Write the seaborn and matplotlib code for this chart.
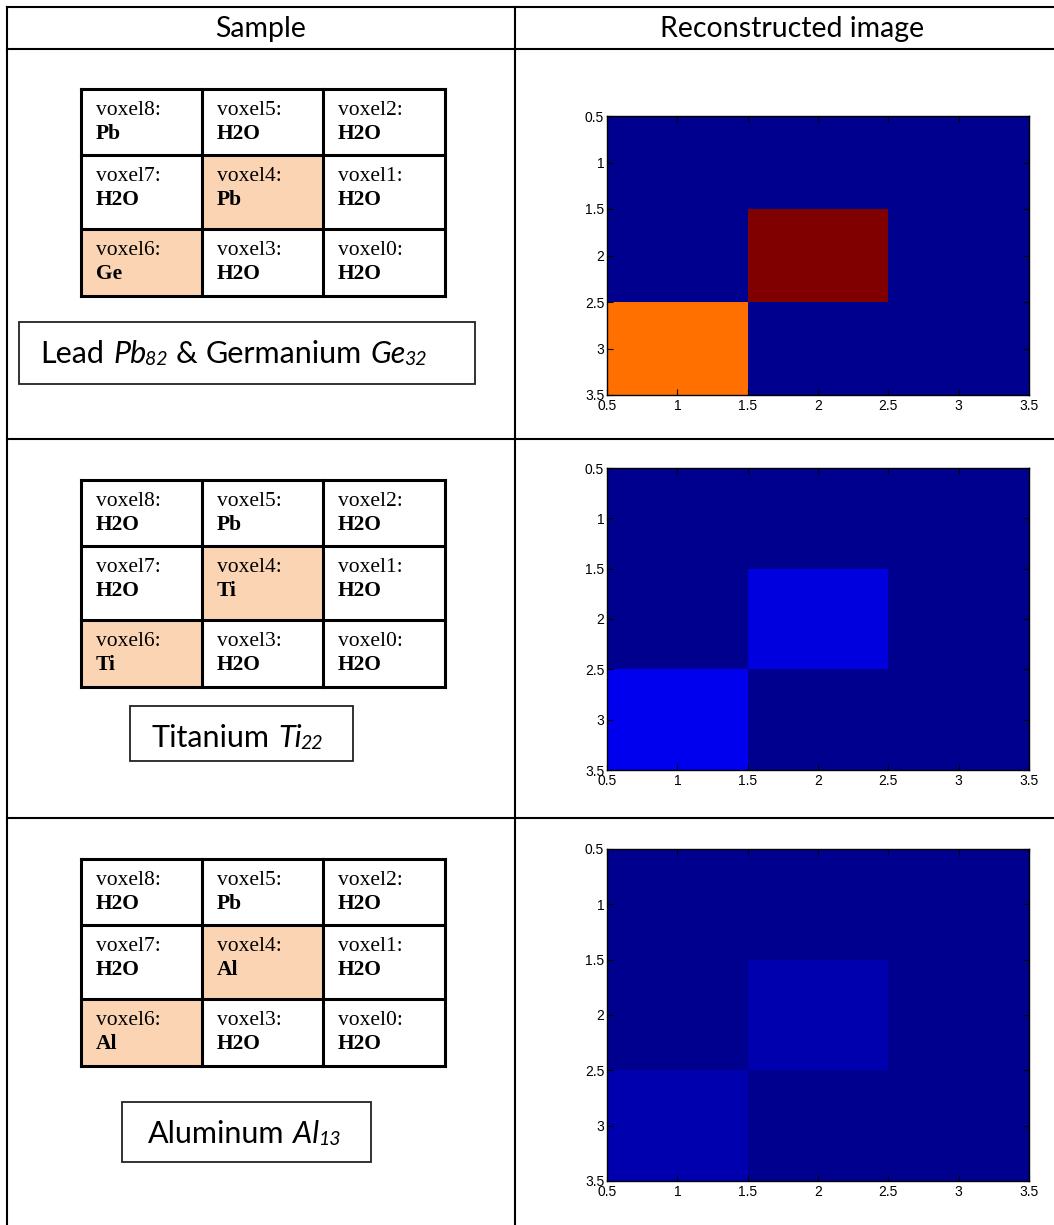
import numpy as np
import matplotlib
matplotlib.use("Agg")
import matplotlib.pyplot as plt
from matplotlib.colors import ListedColormap
from matplotlib.patches import Rectangle
import seaborn as sns

# ----------------------------------------
# Data
# ----------------------------------------
headers = ["Sample", "Reconstructed image"]

# voxel numbering of the 3x3 sample grid (as drawn, top row first)
voxel_ids = [[8, 5, 2], [7, 4, 1], [6, 3, 0]]

materials_pb_ge = [["Pb", "H2O", "H2O"], ["H2O", "Pb", "H2O"], ["Ge", "H2O", "H2O"]]
materials_ti = [["H2O", "Pb", "H2O"], ["H2O", "Ti", "H2O"], ["Ti", "H2O", "H2O"]]
materials_al = [["H2O", "Pb", "H2O"], ["H2O", "Al", "H2O"], ["Al", "H2O", "H2O"]]
highlighted = [(1, 1), (2, 0)]

# caption pieces: (text, italic?, subscript?)
caption_pb_ge = [("Lead", False, False), (" ", False, False), ("Pb", True, False), ("82", True, True),
                 (" ", False, False), ("&", False, False), (" ", False, False),
                 ("Germanium", False, False), (" ", False, False), ("Ge", True, False), ("32", True, True)]
caption_ti = [("Titanium", False, False), (" ", False, False), ("Ti", True, False), ("22", True, True)]
caption_al = [("Aluminum", False, False), (" ", False, False), ("Al", True, False), ("13", True, True)]

# reconstructed images (common colour scale 0..1)
recon_pb_ge = [[0.0, 0.0, 0.0], [0.0, 1.0, 0.0], [0.76, 0.0, 0.0]]
recon_ti = [[0.0, 0.0, 0.0], [0.0, 0.08, 0.0], [0.095, 0.0, 0.0]]
recon_al = [[0.0, 0.0, 0.0], [0.0, 0.033, 0.0], [0.035, 0.0, 0.0]]

tick_labels = ["0.5", "1", "1.5", "2", "2.5", "3", "3.5"]


# MATLAB style jet(64)
def matlab_jet(m=64):
    n = int(np.ceil(m / 4))
    u = np.concatenate([np.arange(1, n + 1) / n, np.ones(n - 1), np.arange(n, 0, -1) / n])
    g = int(np.ceil(n / 2)) - (1 if m % 4 == 1 else 0) + np.arange(1, len(u) + 1)
    r = g + n
    b = g - n
    g = g[g <= m]
    r = r[r <= m]
    b = b[b >= 1]
    J = np.zeros((m, 3))
    J[r - 1, 0] = u[:len(r)]
    J[g - 1, 1] = u[:len(g)]
    J[b - 1, 2] = u[len(u) - len(b):]
    return ListedColormap(J)


jet64 = matlab_jet(64)

# ----------------------------------------
# Figure / layout (pixel coordinates)
# ----------------------------------------
W, H = 1054, 1225
DPI = 100
fig = plt.figure(figsize=(W / DPI, H / DPI), dpi=DPI)
bg = fig.add_axes([0, 0, 1, 1])
bg.set_xlim(0, W)
bg.set_ylim(H, 0)
bg.axis("off")
renderer = fig.canvas.get_renderer()

SANS = "Lato"
SERIF = "Liberation Serif"

# outer table
lw_outer = 1.5
bg.plot([7, 7], [7, H], color="black", lw=lw_outer)
bg.plot([515, 515], [7, H], color="black", lw=lw_outer)
for yy in [7, 49, 439, 818]:
    bg.plot([7, W], [yy, yy], color="black", lw=lw_outer, solid_capstyle="projecting")

bg.text(261, 37, headers[0], family=SANS, size=20.5, ha="center", va="baseline")
bg.text(792, 37, headers[1], family=SANS, size=20.5, ha="center", va="baseline")

col_x = [81, 202.3, 322.8, 444.5]
row_off = [0, 66, 140, 206.5]


def voxel_table(top, materials):
    for (r, c) in highlighted:
        bg.add_patch(Rectangle((col_x[c], top + row_off[r]), col_x[c + 1] - col_x[c],
                               row_off[r + 1] - row_off[r], facecolor="#FBD4B4", edgecolor="none"))
    for r in range(3):
        for c in range(3):
            x = col_x[c] + 14.8
            y = top + row_off[r]
            bg.text(x, y + 25.5, f"voxel{voxel_ids[r][c]}:", family=SERIF, size=15.5, va="baseline")
            bg.text(x, y + 49.5, materials[r][c], family=SERIF, size=15.5, weight="bold", va="baseline")
    for xx in col_x:
        bg.plot([xx, xx], [top, top + row_off[-1]], color="black", lw=2.2, solid_capstyle="projecting")
    for ro in row_off:
        bg.plot([col_x[0], col_x[-1]], [top + ro, top + ro], color="black", lw=2.2,
                solid_capstyle="projecting")


def caption(box, x, y, pieces, size=22):
    x0, y0, x1, y1 = box
    bg.add_patch(Rectangle((x0, y0), x1 - x0, y1 - y0, facecolor="white",
                           edgecolor="#222222", lw=1.3))
    size_px = size * DPI / 72
    for txt, italic, sub in pieces:
        if txt == " ":
            x += size_px * 0.24
            continue
        s = size * 0.64 if sub else size
        t = bg.text(x, y + (2 if sub else 0), txt, family=SANS, size=s,
                    style="italic" if italic else "normal", va="baseline", ha="left")
        w = t.get_window_extent(renderer).width
        x += w + (-1.5 if italic and not sub else 1)


voxel_table(89.3, materials_pb_ge)
voxel_table(480, materials_ti)
voxel_table(859.3, materials_al)

caption((19, 322, 475, 384), 40.7, 362.7, caption_pb_ge)
caption((130, 706, 353, 761), 151.7, 746.7, caption_ti)
caption((122, 1102, 371, 1162), 148.3, 1142.7, caption_al)


# ----------------------------------------
# Reconstructed images
# ----------------------------------------
def recon_axes(y0, y1, values):
    x0, x1 = 607, 1029
    ax = fig.add_axes([x0 / W, 1 - y1 / H, (x1 - x0) / W, (y1 - y0) / H])
    sns.heatmap(np.array(values), ax=ax, cmap=jet64, vmin=0, vmax=1, cbar=False,
                xticklabels=False, yticklabels=False)
    pos = np.arange(0, 3.01, 0.5)
    ax.set_xticks(pos)
    ax.set_xticklabels(tick_labels, family="Liberation Sans", fontsize=10, rotation=0)
    ax.set_yticks(pos)
    ax.set_yticklabels(tick_labels, family="Liberation Sans", fontsize=10, rotation=0)
    for s in ax.spines.values():
        s.set_visible(True)
        s.set_color("black")
        s.set_linewidth(1.0)
    ax.tick_params(direction="in", top=True, right=True, length=4, width=0.8, colors="black")
    ax.tick_params(axis="x", pad=3)
    ax.tick_params(axis="y", pad=2)
    ax.set_xlabel("")
    ax.set_ylabel("")
    return ax


recon_axes(116, 395, recon_pb_ge)
recon_axes(468, 770, recon_ti)
recon_axes(849, 1181, recon_al)

fig.savefig("out.png", dpi=DPI)
